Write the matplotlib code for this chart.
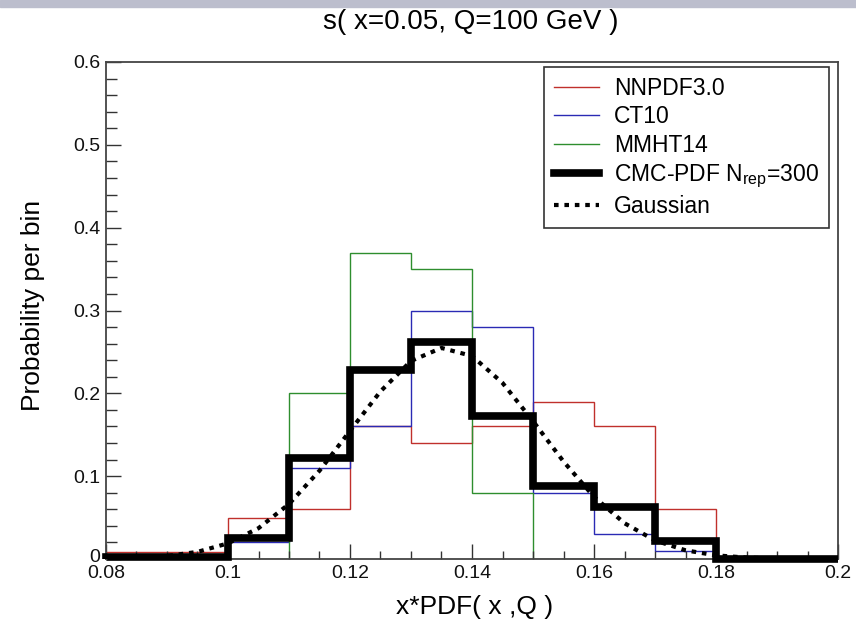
import matplotlib
matplotlib.use("Agg")
import matplotlib.pyplot as plt
from matplotlib.lines import Line2D
from matplotlib.patches import Rectangle
from matplotlib.transforms import ScaledTranslation

plt.rcParams['font.family'] = ['Liberation Sans', 'DejaVu Sans']
plt.rcParams['mathtext.fontset'] = 'custom'
plt.rcParams['mathtext.rm'] = 'Liberation Sans'

# bin edges and per-bin probabilities
edges = [0.08, 0.09, 0.10, 0.11, 0.12, 0.13, 0.14, 0.15, 0.16, 0.17, 0.18, 0.19, 0.20]
nnpdf = [0.008, 0.008, 0.05, 0.06, 0.16, 0.14, 0.16, 0.19, 0.16, 0.06, 0.0, 0.0]
ct10 = [0.0, 0.0, 0.02, 0.11, 0.16, 0.30, 0.28, 0.08, 0.03, 0.01, 0.0, 0.0]
mmht = [0.0, 0.0, 0.0, 0.20, 0.37, 0.35, 0.08, 0.0, 0.0, 0.0, 0.0, 0.0]
cmc = [0.003, 0.003, 0.025, 0.122, 0.228, 0.262, 0.173, 0.088, 0.063, 0.022, 0.0, 0.0]

# dotted gaussian curve
gauss_x = [0.080, 0.085, 0.090, 0.095, 0.100, 0.105, 0.110, 0.115, 0.120, 0.125,
           0.130, 0.135, 0.140, 0.145, 0.150, 0.155, 0.160, 0.165, 0.170, 0.175,
           0.180, 0.185, 0.190]
gauss_y = [0.0004, 0.0013, 0.0036, 0.0086, 0.0189, 0.0372, 0.0664, 0.1066, 0.1547, 0.2024,
           0.2391, 0.2548, 0.2451, 0.2126, 0.1665, 0.1177, 0.0751, 0.0432, 0.0224, 0.0105,
           0.0044, 0.0017, 0.0006]

labels = ['NNPDF3.0', 'CT10', 'MMHT14', 'CMC-PDF N$_{\\mathregular{rep}}$=300', 'Gaussian']
xticks = [0.08, 0.10, 0.12, 0.14, 0.16, 0.18, 0.20]
xtick_labels = ['0.08', '0.1', '0.12', '0.14', '0.16', '0.18', '0.2']
yticks = [0.0, 0.1, 0.2, 0.3, 0.4, 0.5, 0.6]
ytick_labels = ['0', '0.1', '0.2', '0.3', '0.4', '0.5', '0.6']

W, H = 856, 638
fig = plt.figure(figsize=(W / 100, H / 100), dpi=100)
fig.patches.append(Rectangle((0, 1 - 7 / H), 1, 7 / H, transform=fig.transFigure,
                             color='#bcbecd', zorder=0))

ax = fig.add_axes([106 / W, 1 - 559 / H, (838 - 106) / W, (559 - 62) / H])

red, blue, green = '#c0302c', '#2a2ab4', '#2e8e2e'
ax.stairs(nnpdf, edges, color=red, lw=1.0)
ax.stairs(ct10, edges, color=blue, lw=1.0)
ax.stairs(mmht, edges, color=green, lw=1.0)
ax.stairs(cmc, edges, color='black', lw=5.5, clip_on=False, zorder=3)
ax.plot(gauss_x, gauss_y, color='black', lw=3, dashes=(1.1, 1.4),
        dash_capstyle='butt', zorder=4)

ax.set_xlim(0.08, 0.20)
ax.set_ylim(0, 0.6)

ax.set_xticks(xticks)
ax.set_xticklabels(xtick_labels)
ax.set_xticks([0.08 + 0.005 * i for i in range(25)], minor=True)
ax.set_yticks(yticks)
ax.set_yticklabels(ytick_labels)
ax.set_yticks([0.02 * i for i in range(31)], minor=True)

ax.tick_params(axis='both', which='both', direction='in', top=False, right=False,
               width=1.0, color='#333333', labelsize=14, labelcolor='#111111')
ax.tick_params(axis='x', which='major', length=10.5, pad=4)
ax.tick_params(axis='x', which='minor', length=5.8)
ax.tick_params(axis='y', which='major', length=10.5, pad=4)
ax.tick_params(axis='y', which='minor', length=7.8)
for s in ax.spines.values():
    s.set_color('#444444')
    s.set_linewidth(1.3)

# nudge the "0" label up a little so it sits just above "0.08"
zero_lbl = ax.yaxis.get_major_ticks()[0].label1
zero_lbl.set_transform(zero_lbl.get_transform() + ScaledTranslation(0, 4 / 100, fig.dpi_scale_trans))

fig.text(471 / W, 1 - 22 / H, 's( x=0.05, Q=100 GeV )', ha='center', va='center',
         fontsize=20)
fig.text(475 / W, 1 - 607 / H, 'x*PDF( x ,Q )', ha='center', va='center', fontsize=19)
fig.text(33 / W, 1 - 305 / H, 'Probability per bin', ha='center', va='center',
         rotation=90, fontsize=19)

handles = [Line2D([], [], color=red, lw=1.0),
           Line2D([], [], color=blue, lw=1.0),
           Line2D([], [], color=green, lw=1.0),
           Line2D([], [], color='black', lw=5.5),
           Line2D([], [], color='black', lw=3, dashes=(1.1, 1.4), dash_capstyle='butt')]
leg = ax.legend(handles, labels, loc='upper left', bbox_to_anchor=(544 / W, 1 - 67 / H),
                bbox_transform=fig.transFigure, borderaxespad=0, fontsize=16.5,
                frameon=True, fancybox=False, edgecolor='black', handlelength=2.0,
                handletextpad=0.65, labelspacing=0.24, borderpad=0.42)
leg.get_frame().set_linewidth(1.2)

fig.savefig('out.png', dpi=100)
